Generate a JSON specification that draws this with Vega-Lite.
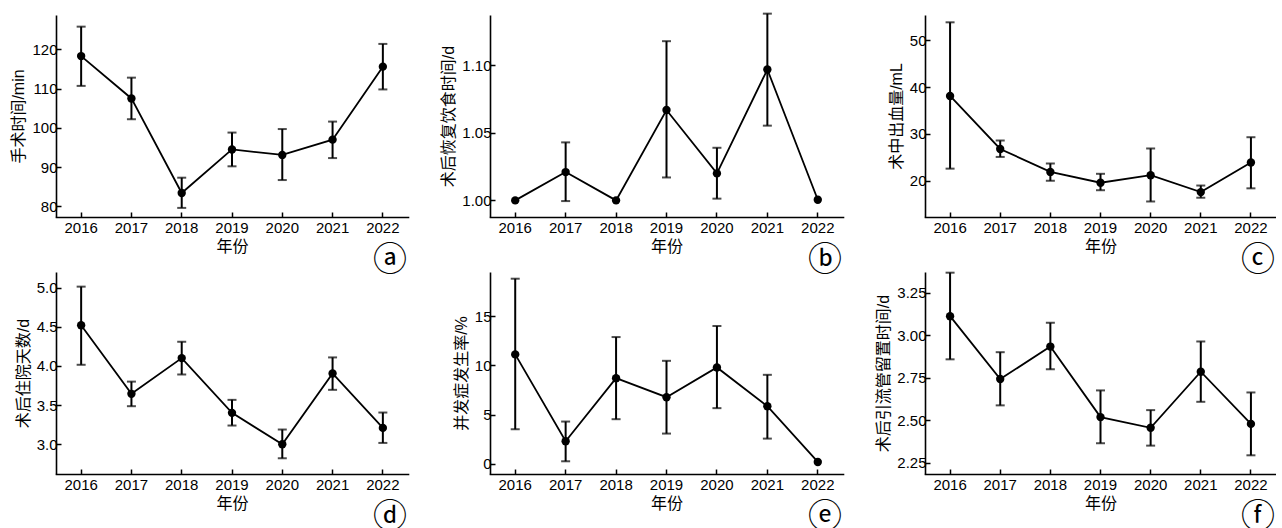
{
  "$schema": "https://vega.github.io/schema/vega-lite/v6.json",
  "padding": {"left": 10, "top": 12, "right": 0, "bottom": 0},
  "background": "white",
  "bounds": "flush",
  "datasets": {
    "a": [
      {"year": "2016", "v": 118.3, "lo": 110.7, "hi": 125.8},
      {"year": "2017", "v": 107.5, "lo": 102.2, "hi": 112.8},
      {"year": "2018", "v": 83.4, "lo": 79.6, "hi": 87.3},
      {"year": "2019", "v": 94.5, "lo": 90.2, "hi": 98.8},
      {"year": "2020", "v": 93.1, "lo": 86.7, "hi": 99.7},
      {"year": "2021", "v": 97.0, "lo": 92.3, "hi": 101.6},
      {"year": "2022", "v": 115.6, "lo": 109.8, "hi": 121.4}
    ],
    "b": [
      {"year": "2016", "v": 1.0},
      {"year": "2017", "v": 1.021, "lo": 0.9995, "hi": 1.043},
      {"year": "2018", "v": 1.0},
      {"year": "2019", "v": 1.067, "lo": 1.017, "hi": 1.118},
      {"year": "2020", "v": 1.02, "lo": 1.0013, "hi": 1.039},
      {"year": "2021", "v": 1.097, "lo": 1.0554, "hi": 1.1384},
      {"year": "2022", "v": 1.0005}
    ],
    "c": [
      {"year": "2016", "v": 38.1, "lo": 22.6, "hi": 53.8},
      {"year": "2017", "v": 26.8, "lo": 25.1, "hi": 28.6},
      {"year": "2018", "v": 21.9, "lo": 20.0, "hi": 23.7},
      {"year": "2019", "v": 19.6, "lo": 18.0, "hi": 21.5},
      {"year": "2020", "v": 21.2, "lo": 15.6, "hi": 26.9},
      {"year": "2021", "v": 17.6, "lo": 16.4, "hi": 19.0},
      {"year": "2022", "v": 23.9, "lo": 18.4, "hi": 29.3}
    ],
    "d": [
      {"year": "2016", "v": 4.52, "lo": 4.015, "hi": 5.013},
      {"year": "2017", "v": 3.644, "lo": 3.486, "hi": 3.8},
      {"year": "2018", "v": 4.1, "lo": 3.891, "hi": 4.309},
      {"year": "2019", "v": 3.401, "lo": 3.239, "hi": 3.567},
      {"year": "2020", "v": 3.0, "lo": 2.821, "hi": 3.188},
      {"year": "2021", "v": 3.904, "lo": 3.695, "hi": 4.109},
      {"year": "2022", "v": 3.209, "lo": 3.017, "hi": 3.405}
    ],
    "e": [
      {"year": "2016", "v": 11.11, "lo": 3.52, "hi": 18.79},
      {"year": "2017", "v": 2.3, "lo": 0.27, "hi": 4.3},
      {"year": "2018", "v": 8.7, "lo": 4.54, "hi": 12.87},
      {"year": "2019", "v": 6.77, "lo": 3.08, "hi": 10.46},
      {"year": "2020", "v": 9.79, "lo": 5.66, "hi": 13.99},
      {"year": "2021", "v": 5.86, "lo": 2.57, "hi": 9.04},
      {"year": "2022", "v": 0.2}
    ],
    "f": [
      {"year": "2016", "v": 3.112, "lo": 2.858, "hi": 3.368},
      {"year": "2017", "v": 2.742, "lo": 2.587, "hi": 2.9},
      {"year": "2018", "v": 2.933, "lo": 2.799, "hi": 3.073},
      {"year": "2019", "v": 2.518, "lo": 2.364, "hi": 2.675},
      {"year": "2020", "v": 2.455, "lo": 2.35, "hi": 2.559},
      {"year": "2021", "v": 2.785, "lo": 2.608, "hi": 2.963},
      {"year": "2022", "v": 2.478, "lo": 2.293, "hi": 2.663}
    ]
  },
  "columns": 3,
  "spacing": {"row": 55, "column": 82},
  "concat": [
    {
      "width": 352, "height": 202,
      "data": {"name": "a"},
      "title": {"text": "ⓐ"},
      "encoding": {
        "x": {"field": "year", "type": "ordinal", "title": "年份"},
        "y": {"type": "quantitative", "scale": {"domain": [77.28, 128.77], "nice": false, "zero": false}, "axis": {"title": "手术时间/min", "values": [80, 90, 100, 110, 120]}}
      },
      "layer": [
        {"mark": {"type": "rule", "strokeWidth": 2, "color": "black"}, "encoding": {"y": {"field": "lo"}, "y2": {"field": "hi"}}},
        {"mark": {"type": "tick", "size": 9, "thickness": 2, "color": "black"}, "encoding": {"y": {"field": "lo"}}},
        {"mark": {"type": "tick", "size": 9, "thickness": 2, "color": "black"}, "encoding": {"y": {"field": "hi"}}},
        {"mark": {"type": "line", "strokeWidth": 1.8, "color": "black"}, "encoding": {"y": {"field": "v"}}},
        {"mark": {"type": "point", "filled": true, "size": 70, "opacity": 1, "color": "black"}, "encoding": {"y": {"field": "v"}}}
      ]
    },
    {
      "width": 353, "height": 202,
      "data": {"name": "b"},
      "title": {"text": "ⓑ"},
      "encoding": {
        "x": {"field": "year", "type": "ordinal", "title": "年份"},
        "y": {"type": "quantitative", "scale": {"domain": [0.9877, 1.1374], "nice": false, "zero": false}, "axis": {"title": "术后恢复饮食时间/d", "values": [1.0, 1.05, 1.1], "format": ".2f"}}
      },
      "layer": [
        {"mark": {"type": "rule", "strokeWidth": 2, "color": "black"}, "encoding": {"y": {"field": "lo"}, "y2": {"field": "hi"}}},
        {"mark": {"type": "tick", "size": 9, "thickness": 2, "color": "black"}, "encoding": {"y": {"field": "lo"}}},
        {"mark": {"type": "tick", "size": 9, "thickness": 2, "color": "black"}, "encoding": {"y": {"field": "hi"}}},
        {"mark": {"type": "line", "strokeWidth": 1.8, "color": "black"}, "encoding": {"y": {"field": "v"}}},
        {"mark": {"type": "point", "filled": true, "size": 70, "opacity": 1, "color": "black"}, "encoding": {"y": {"field": "v"}}}
      ]
    },
    {
      "width": 351, "height": 202,
      "data": {"name": "c"},
      "title": {"text": "ⓒ"},
      "encoding": {
        "x": {"field": "year", "type": "ordinal", "title": "年份"},
        "y": {"type": "quantitative", "scale": {"domain": [12.29, 55.36], "nice": false, "zero": false}, "axis": {"title": "术中出血量/mL", "values": [20, 30, 40, 50]}}
      },
      "layer": [
        {"mark": {"type": "rule", "strokeWidth": 2, "color": "black"}, "encoding": {"y": {"field": "lo"}, "y2": {"field": "hi"}}},
        {"mark": {"type": "tick", "size": 9, "thickness": 2, "color": "black"}, "encoding": {"y": {"field": "lo"}}},
        {"mark": {"type": "tick", "size": 9, "thickness": 2, "color": "black"}, "encoding": {"y": {"field": "hi"}}},
        {"mark": {"type": "line", "strokeWidth": 1.8, "color": "black"}, "encoding": {"y": {"field": "v"}}},
        {"mark": {"type": "point", "filled": true, "size": 70, "opacity": 1, "color": "black"}, "encoding": {"y": {"field": "v"}}}
      ]
    },
    {
      "width": 352, "height": 202,
      "data": {"name": "d"},
      "title": {"text": "ⓓ"},
      "encoding": {
        "x": {"field": "year", "type": "ordinal", "title": "年份"},
        "y": {"type": "quantitative", "scale": {"domain": [2.62, 5.2], "nice": false, "zero": false}, "axis": {"title": "术后住院天数/d", "values": [3.0, 3.5, 4.0, 4.5, 5.0], "format": ".1f"}}
      },
      "layer": [
        {"mark": {"type": "rule", "strokeWidth": 2, "color": "black"}, "encoding": {"y": {"field": "lo"}, "y2": {"field": "hi"}}},
        {"mark": {"type": "tick", "size": 9, "thickness": 2, "color": "black"}, "encoding": {"y": {"field": "lo"}}},
        {"mark": {"type": "tick", "size": 9, "thickness": 2, "color": "black"}, "encoding": {"y": {"field": "hi"}}},
        {"mark": {"type": "line", "strokeWidth": 1.8, "color": "black"}, "encoding": {"y": {"field": "v"}}},
        {"mark": {"type": "point", "filled": true, "size": 70, "opacity": 1, "color": "black"}, "encoding": {"y": {"field": "v"}}}
      ]
    },
    {
      "width": 353, "height": 202,
      "data": {"name": "e"},
      "title": {"text": "ⓔ"},
      "encoding": {
        "x": {"field": "year", "type": "ordinal", "title": "年份"},
        "y": {"type": "quantitative", "scale": {"domain": [-1.02, 19.47], "nice": false, "zero": false}, "axis": {"title": "并发症发生率/%", "values": [0, 5, 10, 15]}}
      },
      "layer": [
        {"mark": {"type": "rule", "strokeWidth": 2, "color": "black"}, "encoding": {"y": {"field": "lo"}, "y2": {"field": "hi"}}},
        {"mark": {"type": "tick", "size": 9, "thickness": 2, "color": "black"}, "encoding": {"y": {"field": "lo"}}},
        {"mark": {"type": "tick", "size": 9, "thickness": 2, "color": "black"}, "encoding": {"y": {"field": "hi"}}},
        {"mark": {"type": "line", "strokeWidth": 1.8, "color": "black"}, "encoding": {"y": {"field": "v"}}},
        {"mark": {"type": "point", "filled": true, "size": 70, "opacity": 1, "color": "black"}, "encoding": {"y": {"field": "v"}}}
      ]
    },
    {
      "width": 351, "height": 202,
      "data": {"name": "f"},
      "title": {"text": "ⓕ"},
      "encoding": {
        "x": {"field": "year", "type": "ordinal", "title": "年份"},
        "y": {"type": "quantitative", "scale": {"domain": [2.183, 3.372], "nice": false, "zero": false}, "axis": {"title": "术后引流管留置时间/d", "values": [2.25, 2.5, 2.75, 3.0, 3.25], "format": ".2f"}}
      },
      "layer": [
        {"mark": {"type": "rule", "strokeWidth": 2, "color": "black"}, "encoding": {"y": {"field": "lo"}, "y2": {"field": "hi"}}},
        {"mark": {"type": "tick", "size": 9, "thickness": 2, "color": "black"}, "encoding": {"y": {"field": "lo"}}},
        {"mark": {"type": "tick", "size": 9, "thickness": 2, "color": "black"}, "encoding": {"y": {"field": "hi"}}},
        {"mark": {"type": "line", "strokeWidth": 1.8, "color": "black"}, "encoding": {"y": {"field": "v"}}},
        {"mark": {"type": "point", "filled": true, "size": 70, "opacity": 1, "color": "black"}, "encoding": {"y": {"field": "v"}}}
      ]
    }
  ],
  "config": {
    "view": {"stroke": null},
    "scale": {"pointPadding": 0.62},
    "title": {"orient": "bottom", "anchor": "end", "font": "Noto Sans CJK SC", "fontSize": 34, "fontWeight": "normal", "color": "black", "offset": -10, "dx": -1},
    "axis": {
      "grid": false,
      "domainColor": "black", "domainWidth": 1.6,
      "tickColor": "black", "tickWidth": 1.5, "tickSize": -5,
      "labelColor": "black", "labelFont": "Liberation Sans", "labelFontSize": 15,
      "titleColor": "black", "titleFont": "Liberation Sans, Noto Sans CJK SC", "titleFontSize": 16, "titleFontWeight": "normal"
    },
    "axisX": {"labelAngle": 0, "labelPadding": 8, "titlePadding": 3, "domainCap": "square"},
    "axisY": {"labelPadding": 4, "titlePadding": 5}
  }
}
